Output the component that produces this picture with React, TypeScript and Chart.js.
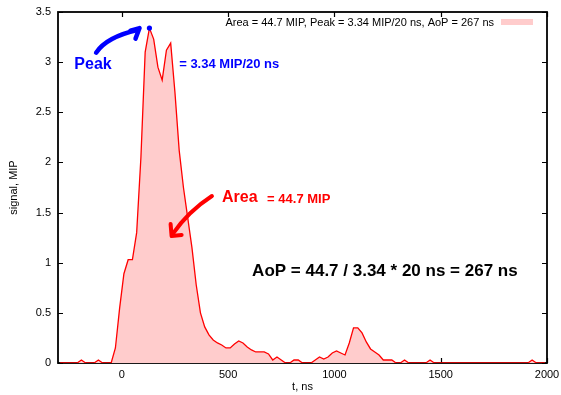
import React, { useEffect, useRef } from "react";
import { Chart, registerables } from "chart.js";

Chart.register(...registerables);

// Sample times (ns), one bin every 20 ns
const times = [
  -290, -270, -250, -230, -210, -190, -170, -150, -130, -110, -90, -70, -50, -30, -10,
  10, 30, 50, 70, 90, 110, 130, 150, 170, 190, 210, 230, 250, 270, 290,
  310, 330, 350, 370, 390, 410, 430, 450, 470, 490, 510, 530, 550, 570, 590,
  610, 630, 650, 670, 690, 710, 730, 750, 770, 790, 810, 830, 850, 870, 890,
  910, 930, 950, 970, 990, 1010, 1030, 1050, 1070, 1090, 1110, 1130, 1150, 1170, 1190,
  1210, 1230, 1250, 1270, 1290, 1310, 1330, 1350, 1370, 1390, 1410, 1430, 1450, 1470, 1490,
  1510, 1530, 1550, 1570, 1590, 1610, 1630, 1650, 1670, 1690, 1710, 1730, 1750, 1770, 1790,
  1810, 1830, 1850, 1870, 1890, 1910, 1930, 1950, 1970, 1990,
];

// Signal (MIP per 20 ns)
const signal = [
  0, 0, 0, 0, 0, 0.03, 0, 0, 0, 0.03, 0, 0, 0, 0.15, 0.55,
  0.89, 1.03, 1.03, 1.3, 2.05, 3.1, 3.34, 3.23, 2.95, 2.82, 3.12, 3.19, 2.7, 2.12, 1.75,
  1.45, 1.15, 0.78, 0.5, 0.36, 0.28, 0.23, 0.2, 0.18, 0.15, 0.15, 0.19, 0.22, 0.2, 0.16,
  0.13, 0.11, 0.11, 0.11, 0.09, 0.03, 0.06, 0.03, 0, 0, 0.03, 0.03, 0, 0, 0,
  0.03, 0.06, 0.04, 0.06, 0.1, 0.12, 0.1, 0.08, 0.2, 0.35, 0.35, 0.3, 0.21, 0.14, 0.11,
  0.08, 0.03, 0.03, 0.03, 0, 0, 0.03, 0, 0, 0, 0, 0, 0.03, 0, 0,
  0, 0, 0, 0, 0, 0, 0, 0, 0, 0, 0, 0, 0, 0, 0,
  0, 0, 0, 0, 0, 0, 0.03, 0, 0, 0,
];

const xTicks = [0, 500, 1000, 1500, 2000];
const yTicks = [0, 0.5, 1, 1.5, 2, 2.5, 3, 3.5];

const peakTime = 130;
const peakValue = 3.34;

const legendText = "Area = 44.7 MIP, Peak = 3.34 MIP/20 ns, AoP = 267 ns";
const peakLabel = "Peak";
const peakValueLabel = "= 3.34 MIP/20 ns";
const areaLabel = "Area";
const areaValueLabel = "= 44.7 MIP";
const aopLabel = "AoP = 44.7 / 3.34 * 20 ns = 267 ns";

const FONT = '"Liberation Sans", Arial, Helvetica, sans-serif';

const framePlugin = {
  id: "frame",
  beforeDatasetsDraw(chart: any) {
    const { ctx, chartArea } = chart;
    const xs = chart.scales.x;
    const ys = chart.scales.y;
    const { left, right, top, bottom } = chartArea;
    ctx.save();
    ctx.strokeStyle = "#000";
    ctx.lineWidth = 1.2;
    ctx.beginPath();
    const tl = 5;
    xTicks.forEach((v) => {
      const px = Math.round(xs.getPixelForValue(v)) + 0.5;
      ctx.moveTo(px, bottom);
      ctx.lineTo(px, bottom - tl);
      ctx.moveTo(px, top);
      ctx.lineTo(px, top + tl);
    });
    yTicks.forEach((v) => {
      const py = Math.round(ys.getPixelForValue(v)) + 0.5;
      ctx.moveTo(left, py);
      ctx.lineTo(left + tl, py);
      ctx.moveTo(right, py);
      ctx.lineTo(right - tl, py);
    });
    ctx.stroke();
    ctx.lineWidth = 1.8;
    ctx.strokeRect(left, top, right - left, bottom - top);
    ctx.restore();
  },
};

const annotationPlugin = {
  id: "annotations",
  afterDatasetsDraw(chart: any) {
    const { ctx, chartArea } = chart;
    const xs = chart.scales.x;
    const ys = chart.scales.y;
    const P = (t: number, v: number) => [xs.getPixelForValue(t), ys.getPixelForValue(v)];
    ctx.save();

    // Legend (top right, text then swatch)
    ctx.font = `11px ${FONT}`;
    ctx.fillStyle = "#000";
    ctx.textAlign = "right";
    ctx.textBaseline = "alphabetic";
    ctx.fillText(legendText, chartArea.right - 53, chartArea.top + 14);
    ctx.fillStyle = "#ffcccc";
    ctx.fillRect(chartArea.right - 46, chartArea.top + 7, 32, 6);

    ctx.textAlign = "left";
    // Peak annotation
    ctx.fillStyle = "#0000ff";
    ctx.strokeStyle = "#0000ff";
    ctx.font = `bold 16px ${FONT}`;
    let p = P(-223, 2.936);
    ctx.fillText(peakLabel, p[0], p[1]);
    ctx.font = `bold 13px ${FONT}`;
    p = P(270, 2.94);
    ctx.fillText(peakValueLabel, p[0], p[1]);

    ctx.lineWidth = 4.5;
    ctx.lineCap = "round";
    ctx.lineJoin = "round";
    let a = P(-120.7, 3.094);
    let c = P(-72, 3.25);
    let b = P(74, 3.32);
    ctx.beginPath();
    ctx.moveTo(a[0], a[1]);
    ctx.quadraticCurveTo(c[0], c[1], b[0], b[1]);
    ctx.stroke();
    let h1 = P(41, 3.315);
    let h2 = P(83.5, 3.34);
    let h3 = P(64.6, 3.235);
    ctx.beginPath();
    ctx.moveTo(h1[0], h1[1]);
    ctx.lineTo(h2[0], h2[1]);
    ctx.lineTo(h3[0], h3[1]);
    ctx.stroke();

    // Area annotation
    ctx.fillStyle = "#ff0000";
    ctx.strokeStyle = "#ff0000";
    ctx.font = `bold 16px ${FONT}`;
    p = P(471.5, 1.602);
    ctx.fillText(areaLabel, p[0], p[1]);
    ctx.font = `bold 13px ${FONT}`;
    p = P(683.6, 1.6);
    ctx.fillText(areaValueLabel, p[0], p[1]);

    ctx.lineWidth = 4;
    a = P(424, 1.665);
    c = P(314.5, 1.515);
    b = P(239, 1.286);
    ctx.beginPath();
    ctx.moveTo(a[0], a[1]);
    ctx.quadraticCurveTo(c[0], c[1], b[0], b[1]);
    ctx.stroke();
    h1 = P(229.6, 1.386);
    h2 = P(234.3, 1.266);
    h3 = P(281.5, 1.276);
    ctx.beginPath();
    ctx.moveTo(h1[0], h1[1]);
    ctx.lineTo(h2[0], h2[1]);
    ctx.lineTo(h3[0], h3[1]);
    ctx.stroke();

    // AoP formula
    ctx.fillStyle = "#000";
    ctx.font = `bold 17px ${FONT}`;
    p = P(613, 0.867);
    ctx.fillText(aopLabel, p[0], p[1]);

    ctx.restore();
  },
};

export default function App() {
  const ref = useRef<HTMLCanvasElement | null>(null);
  useEffect(() => {
    if (!ref.current) return;
    const chart = new Chart(ref.current, {
      type: "line",
      data: {
        datasets: [
          {
            type: "scatter",
            data: [{ x: peakTime, y: peakValue }],
            pointRadius: 2.6,
            pointBackgroundColor: "#0000ff",
            pointBorderWidth: 0,
            showLine: false,
            order: 0,
          } as any,
          {
            data: times.map((t, i) => ({ x: t, y: signal[i] })),
            borderColor: "#ff0000",
            backgroundColor: "#ffcccc",
            borderWidth: 1.3,
            pointRadius: 0,
            fill: "origin",
            tension: 0,
            order: 1,
          },
        ],
      },
      options: {
        animation: false,
        responsive: false,
        layout: { padding: { left: 0, top: 12, right: 14, bottom: 0 } },
        plugins: { legend: { display: false }, tooltip: { enabled: false } },
        scales: {
          x: {
            type: "linear",
            min: -300,
            max: 2000,
            grid: { display: false, drawTicks: false },
            border: { display: false },
            afterBuildTicks: (s: any) => {
              s.ticks = xTicks.map((v) => ({ value: v }));
            },
            afterFit: (s: any) => {
              s.height = 32;
              s.paddingLeft = 0;
              s.paddingRight = 0;
            },
            ticks: {
              padding: 5,
              color: "#000",
              font: { family: FONT, size: 11 },
              maxRotation: 0,
              callback: (v: any) => String(v),
            },
            title: {
              display: true,
              text: "t, ns",
              color: "#000",
              font: { family: FONT, size: 11 },
              padding: { top: 0, bottom: 1.4 },
            },
          },
          y: {
            type: "linear",
            min: 0,
            max: 3.5,
            grid: { display: false, drawTicks: false },
            border: { display: false },
            afterBuildTicks: (s: any) => {
              s.ticks = yTicks.map((v) => ({ value: v }));
            },
            afterFit: (s: any) => {
              s.width = 58;
              s.paddingTop = 0;
              s.paddingBottom = 0;
            },
            ticks: {
              padding: 7,
              color: "#000",
              font: { family: FONT, size: 11 },
              callback: (v: any) => String(v),
            },
            title: {
              display: true,
              text: "signal, MIP",
              color: "#000",
              font: { family: FONT, size: 11 },
              padding: { top: 7.4, bottom: 0 },
            },
          },
        },
      },
      plugins: [framePlugin, annotationPlugin],
    });
    return () => chart.destroy();
  }, []);
  return (
    <div style={{ position: "absolute", left: 0, top: 0, width: 561, height: 395 }}>
      <canvas ref={ref} width={561} height={395} style={{ display: "block" }} />
    </div>
  );
}
